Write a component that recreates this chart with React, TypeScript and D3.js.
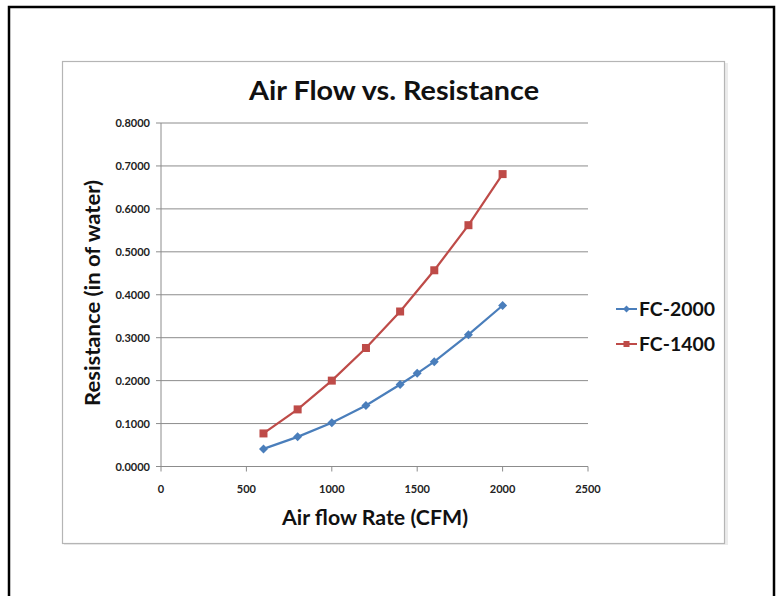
import React from "react";
import * as d3 from "d3";

const fc2000Flow = [600, 800, 1000, 1200, 1400, 1500, 1600, 1800, 2000];
const fc2000Res = [0.041, 0.069, 0.102, 0.142, 0.191, 0.217, 0.244, 0.307, 0.375];
const fc1400Flow = [600, 800, 1000, 1200, 1400, 1600, 1800, 2000];
const fc1400Res = [0.077, 0.133, 0.2, 0.276, 0.361, 0.457, 0.562, 0.681];
const xTicks = [0, 500, 1000, 1500, 2000, 2500];
const yTicks = [0, 0.1, 0.2, 0.3, 0.4, 0.5, 0.6, 0.7, 0.8];
const seriesNames = ["FC-2000", "FC-1400"];

const BLUE = "#4a7ebb";
const RED = "#be4b48";
const FONT = "Lato, 'Open Sans', sans-serif";

export default function App() {
  const x = d3.scaleLinear().domain([0, 2500]).range([161, 588]);
  const y = d3.scaleLinear().domain([0, 0.8]).range([466.5, 123]);
  const line = d3
    .line<[number, number]>()
    .x((d) => x(d[0]))
    .y((d) => y(d[1]));
  const blue: [number, number][] = fc2000Flow.map((f, i) => [f, fc2000Res[i]]);
  const red: [number, number][] = fc1400Flow.map((f, i) => [f, fc1400Res[i]]);
  const fmt = d3.format(".4f");

  return (
    <svg
      width={782}
      height={596}
      style={{ position: "absolute", left: 0, top: 0, background: "#fff" }}
      fontFamily={FONT}
    >
      <rect x={9} y={7} width={765} height={620} fill="#fff" stroke="#000" strokeWidth={2.5} />
      <rect x={64} y={63} width={664} height={482} fill="#000" opacity={0.08} />
      <rect x={62.5} y={61.5} width={662} height={482} fill="#fff" stroke="#b5b5b5" strokeWidth={1.2} />

      <text
        x={394}
        y={100}
        textAnchor="middle"
        fontSize={26}
        fontWeight="bold"
        fill="#111"
        textLength={290}
        lengthAdjust="spacingAndGlyphs"
      >
        Air Flow vs. Resistance
      </text>

      {yTicks.map((t) => (
        <g key={"y" + t}>
          <line x1={156} x2={588} y1={y(t)} y2={y(t)} stroke="#8c8c8c" strokeWidth={1} />
          <text x={150} y={y(t) + 4} textAnchor="end" fontSize={11} fontWeight="bold" fill="#222">
            {fmt(t)}
          </text>
        </g>
      ))}
      <line x1={161} x2={161} y1={123} y2={466.5} stroke="#8c8c8c" strokeWidth={1} />
      {xTicks.map((t) => (
        <g key={"x" + t}>
          <line x1={x(t)} x2={x(t)} y1={466.5} y2={471.5} stroke="#8c8c8c" strokeWidth={1} />
          <text x={x(t)} y={493} textAnchor="middle" fontSize={11} fontWeight="bold" fill="#222">
            {t}
          </text>
        </g>
      ))}

      <text
        x={375}
        y={525}
        textAnchor="middle"
        fontSize={20}
        fontWeight="bold"
        fill="#111"
        textLength={186}
        lengthAdjust="spacingAndGlyphs"
      >
        Air flow Rate (CFM)
      </text>
      <text
        transform="translate(100,293) rotate(-90)"
        textAnchor="middle"
        fontSize={20}
        fontWeight="bold"
        fill="#111"
        textLength={226}
        lengthAdjust="spacingAndGlyphs"
      >
        Resistance (in of water)
      </text>

      <path d={line(red) || ""} fill="none" stroke={RED} strokeWidth={2.2} />
      <path d={line(blue) || ""} fill="none" stroke={BLUE} strokeWidth={2.2} />
      {red.map((d, i) => (
        <rect key={"r" + i} x={x(d[0]) - 4} y={y(d[1]) - 4} width={8} height={8} fill={RED} />
      ))}
      {blue.map((d, i) => (
        <path
          key={"b" + i}
          d={`M${x(d[0])},${y(d[1]) - 4.5}L${x(d[0]) + 4.5},${y(d[1])}L${x(d[0])},${y(d[1]) + 4.5}L${x(d[0]) - 4.5},${y(d[1])}Z`}
          fill={BLUE}
        />
      ))}

      <g>
        <line x1={616} x2={637} y1={309} y2={309} stroke={BLUE} strokeWidth={2} />
        <path d="M626.5,305.5L630,309L626.5,312.5L623,309Z" fill={BLUE} />
        <text x={639} y={316} fontSize={19} fontWeight="bold" fill="#111" textLength={76} lengthAdjust="spacingAndGlyphs">
          {seriesNames[0]}
        </text>
        <line x1={616} x2={637} y1={344} y2={344} stroke={RED} strokeWidth={2} />
        <rect x={623.5} y={341} width={6} height={6} fill={RED} />
        <text x={639} y={351} fontSize={19} fontWeight="bold" fill="#111" textLength={76} lengthAdjust="spacingAndGlyphs">
          {seriesNames[1]}
        </text>
      </g>
    </svg>
  );
}
